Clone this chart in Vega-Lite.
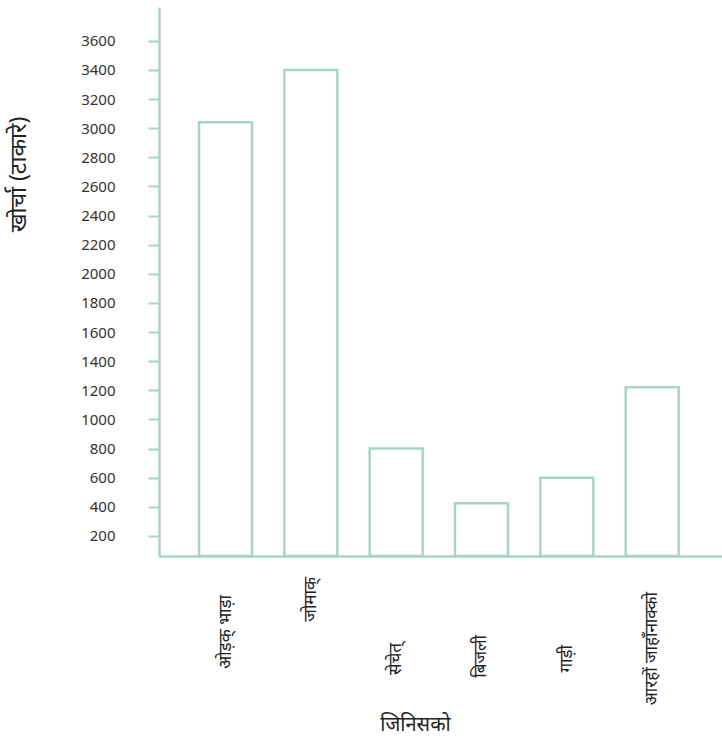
{
  "$schema": "https://vega.github.io/schema/vega-lite/v6.json",
  "autosize": {"type": "none"},
  "padding": {"left": 159, "top": 7, "right": 0, "bottom": 185},
  "width": 563,
  "height": 549,
  "background": "white",
  "config": {"view": {"stroke": null}, "font": "Noto Sans"},
  "data": {"values": [
    {"item": "ओड़क् भाड़ा", "cost": 3040},
    {"item": "जोमाक्", "cost": 3400},
    {"item": "सेचेत्", "cost": 800},
    {"item": "बिजली", "cost": 425},
    {"item": "गाड़ी", "cost": 600},
    {"item": "आरहों जाहाँनाक्को", "cost": 1220}
  ]},
  "encoding": {
    "x": {
      "field": "item", "type": "nominal", "sort": null,
      "scale": {"paddingInner": 0.379, "paddingOuter": 0.4885, "align": 0.48},
      "axis": {
        "title": "जिनिसको",
        "titleFontSize": 20, "titleFontWeight": "normal", "titleColor": "#222",
        "titleX": 256, "titleY": 168, "titleBaseline": "middle", "titleAlign": "center", "titleAnchor": null,
        "labels": false,
        "ticks": false, "grid": false,
        "domainColor": "#a8d5c9", "domainWidth": 2.5
      }
    }
  },
  "resolve": {"axis": {"y": "independent"}},
  "layer": [
    {
      "mark": {"type": "bar", "fill": "white", "stroke": "#a8d5c9", "strokeWidth": 2.5},
      "encoding": {
        "y": {
          "field": "cost", "type": "quantitative",
          "scale": {"domain": [62, 3832], "zero": false, "nice": false, "clamp": true},
          "axis": {
            "title": "खोर्चा (टाकारे)",
            "titleFontSize": 23, "titleFontWeight": "normal", "titleColor": "#222",
            "titleX": -129, "titleY": 167, "titleAlign": "center", "titleAnchor": null, "titleAngle": -90, "titleBaseline": "bottom",
            "values": [200, 400, 600, 800, 1000, 1200, 1400, 1600, 1800, 2000, 2200, 2400, 2600, 2800, 3000, 3200, 3400, 3600],
            "format": "d",
            "labelFontSize": 15, "labelColor": "#333", "labelPadding": 33, "labelOverlap": false,
            "tickColor": "#a8d5c9", "tickSize": 11, "tickWidth": 2,
            "grid": false,
            "domainColor": "#a8d5c9", "domainWidth": 2.5
          }
        }
      }
    },
    {
      "mark": {
        "type": "text", "angle": -90, "align": "right", "baseline": "middle",
        "fontSize": 17, "color": "#222",
        "dx": {"expr": "datum.item === 'जोमाक्' ? -21 : datum.item === 'ओड़क् भाड़ा' ? -39 : datum.item === 'सेचेत्' ? -87 : datum.item === 'बिजली' ? -79 : datum.item === 'गाड़ी' ? -89 : -36"}
      },
      "encoding": {
        "y": {"datum": 62, "axis": null},
        "text": {"field": "item"}
      }
    }
  ]
}
